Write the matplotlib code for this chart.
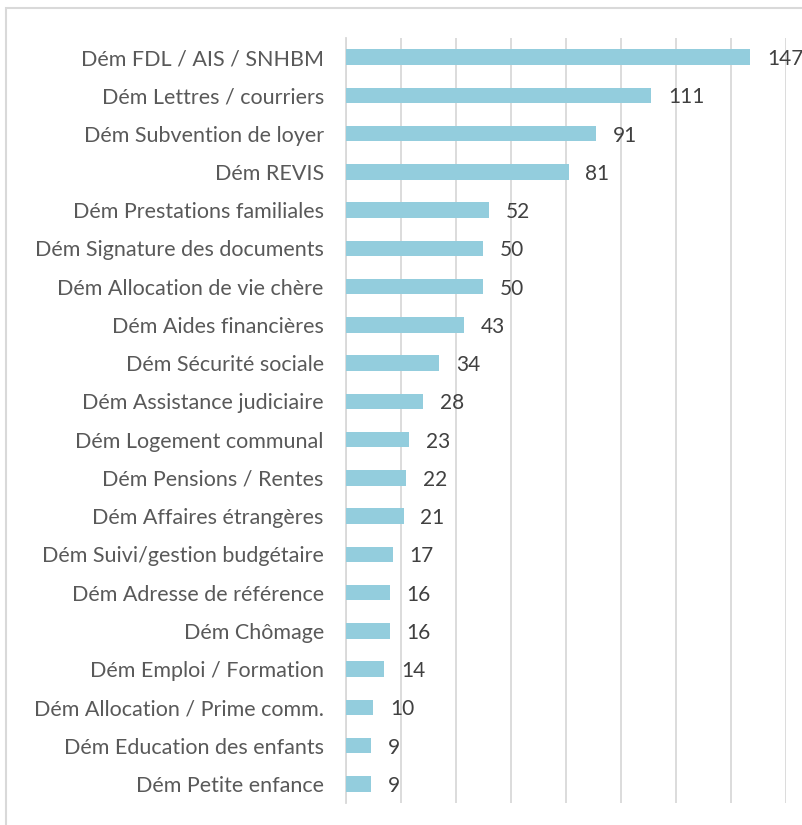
import matplotlib.pyplot as plt
from matplotlib.patches import Rectangle

categories = [
    "Dém FDL / AIS / SNHBM",
    "Dém Lettres / courriers",
    "Dém Subvention de loyer",
    "Dém REVIS",
    "Dém Prestations familiales",
    "Dém Signature des documents",
    "Dém Allocation de vie chère",
    "Dém Aides financières",
    "Dém Sécurité sociale",
    "Dém Assistance judiciaire",
    "Dém Logement communal",
    "Dém Pensions / Rentes",
    "Dém Affaires étrangères",
    "Dém Suivi/gestion budgétaire",
    "Dém Adresse de référence",
    "Dém Chômage",
    "Dém Emploi / Formation",
    "Dém Allocation / Prime comm.",
    "Dém Education des enfants",
    "Dém Petite enfance",
]
values = [147, 111, 91, 81, 52, 50, 50, 43, 34, 28, 23, 22, 21, 17, 16, 16, 14, 10, 9, 9]

plt.rcParams['font.family'] = ['Lato', 'DejaVu Sans']

W, H = 803, 825
fig = plt.figure(figsize=(W / 100, H / 100), dpi=100)
fig.patch.set_facecolor('white')

# chart frame (cut off on the right and bottom)
fig.patches.append(Rectangle((6 / W, -0.1), 1.2, 1 - 8 / H + 0.1, transform=fig.transFigure,
                             fill=False, edgecolor='#d9d9d9', linewidth=1.5))

ax = fig.add_axes([346 / W, 22 / H, (786 - 346) / W, (803 - 38) / H])

y = list(range(len(categories)))
ax.barh(y, values, height=0.4, color='#93cddd', zorder=3)
ax.set_ylim(len(categories) - 0.5, -0.5)
ax.set_xlim(0, 160)
ax.set_xticks(range(0, 161, 20))
ax.set_xticklabels([])
ax.tick_params(axis='x', length=0)
ax.grid(axis='x', color='#d9d9d9', linewidth=1.3, zorder=0)

ax.set_yticks(y)
ax.set_yticklabels(categories, fontsize=15.5, color='#595959')
ax.tick_params(axis='y', length=0, pad=16)

for s in ['top', 'right', 'bottom']:
    ax.spines[s].set_visible(False)
ax.spines['left'].set_color('#d9d9d9')
ax.spines['left'].set_linewidth(1.3)

for yi, v in zip(y, values):
    ax.annotate(str(v), (v, yi), xytext=(12, -1.5), textcoords='offset points',
                va='center', ha='left', fontsize=15, color='#404040', annotation_clip=False)

fig.savefig('out.png', dpi=100)
